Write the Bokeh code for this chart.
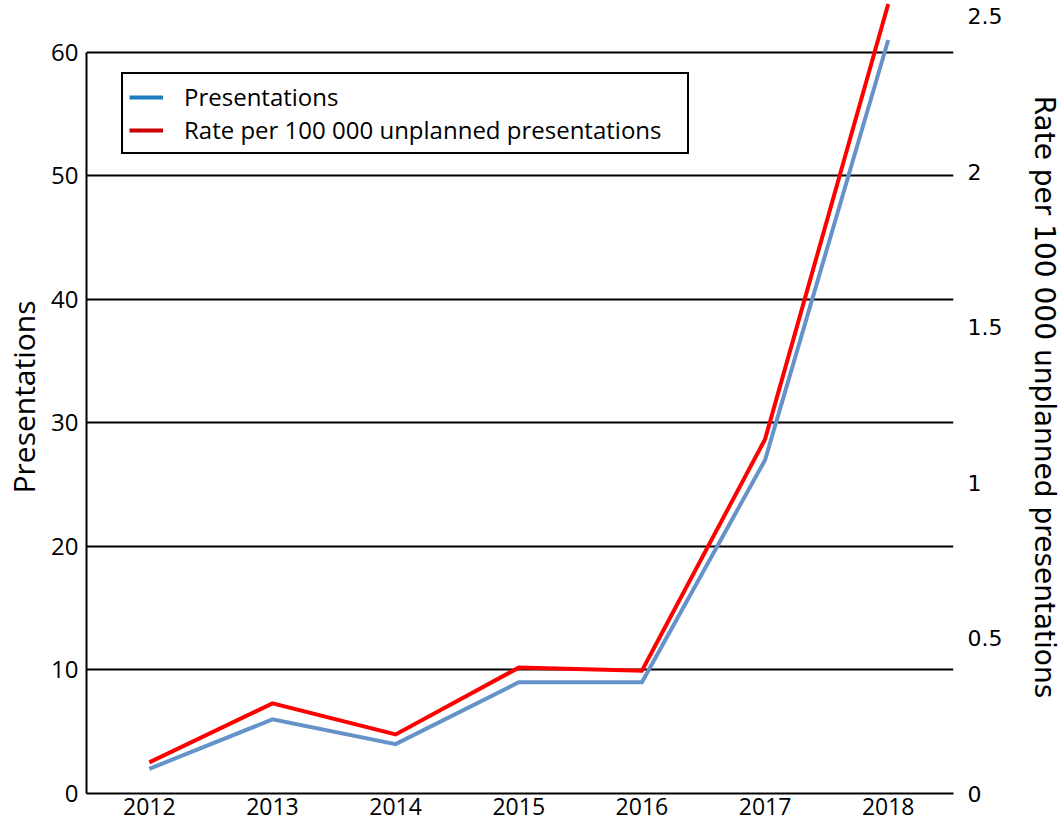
from bokeh.plotting import figure
from bokeh.models import Range1d, LinearAxis, FixedTicker, Legend, LegendItem
from bokeh.embed import file_html
from bokeh.resources import INLINE

# ---- data ----
years = [2012, 2013, 2014, 2015, 2016, 2017, 2018]
presentations = [2, 6, 4, 9, 9, 27, 61]
rate = [0.10, 0.29, 0.19, 0.405, 0.395, 1.14, 2.54]
left_ticks = [0, 10, 20, 30, 40, 50, 60]
right_ticks = [0, 0.5, 1, 1.5, 2, 2.5]
right_tick_labels = ["0", "0.5", "1", "1.5", "2", "2.5"]
series_labels = ["Presentations", "Rate per 100 000 unplanned presentations"]

LEFT_FONT = "Open Sans"
RIGHT_FONT = "DejaVu Sans"

p = figure(width=1064, height=829, output_backend="svg", toolbar_location=None,
           x_range=Range1d(2011.49, 2018.53), y_range=Range1d(0, 64.2),
           min_border_left=0, min_border_right=0, min_border_top=0, min_border_bottom=36)
p.outline_line_color = None
p.background_fill_color = "white"
p.extra_y_ranges = {"rate": Range1d(0, 64.2 * 0.03974)}

# x axis
xa = p.xaxis[0]
xa.ticker = FixedTicker(ticks=years)
xa.major_tick_out = 0
xa.major_tick_in = 0
xa.minor_tick_out = 0
xa.minor_tick_in = 0
xa.axis_line_color = "black"
xa.axis_line_width = 2
xa.major_label_text_font = LEFT_FONT
xa.major_label_text_font_size = "23px"
xa.major_label_text_color = "black"
xa.major_label_standoff = 4

# left y axis
ya = p.yaxis[0]
ya.ticker = FixedTicker(ticks=left_ticks)
ya.bounds = (0, 60)
ya.major_tick_out = 0
ya.major_tick_in = 0
ya.minor_tick_out = 0
ya.minor_tick_in = 0
ya.axis_line_color = "black"
ya.axis_line_width = 2
ya.major_label_text_font = LEFT_FONT
ya.major_label_text_font_size = "24px"
ya.major_label_text_color = "black"
ya.major_label_standoff = 8
ya.axis_label = series_labels[0]
ya.axis_label_text_font = LEFT_FONT
ya.axis_label_text_font_size = "30px"
ya.axis_label_text_font_style = "normal"
ya.axis_label_text_color = "black"
ya.axis_label_standoff = 4

# right y axis
ra = LinearAxis(y_range_name="rate", ticker=FixedTicker(ticks=right_ticks),
                major_label_overrides={t: s for t, s in zip(right_ticks, right_tick_labels)})
ra.axis_line_color = None
ra.major_tick_out = 0
ra.major_tick_in = 0
ra.minor_tick_out = 0
ra.minor_tick_in = 0
ra.major_label_text_font = RIGHT_FONT
ra.major_label_text_font_size = "22px"
ra.major_label_text_color = "black"
ra.major_label_standoff = 14
ra.axis_label = series_labels[1]
ra.axis_label_text_font = RIGHT_FONT
ra.axis_label_text_font_size = "28px"
ra.axis_label_text_font_style = "normal"
ra.axis_label_text_color = "black"
ra.axis_label_standoff = 23
p.add_layout(ra, "right")

# grid
p.xgrid.visible = False
p.ygrid.grid_line_color = "black"
p.ygrid.grid_line_width = 2

# lines
p.line(years, presentations, line_color="#6592c9", line_width=4, line_join="miter")
p.line(years, rate, y_range_name="rate", line_color="#ff0000", line_width=4, line_join="miter")

# legend swatches use their own colours (renderers with no visible points)
nan = float("nan")
leg_blue = p.line(x=[nan], y=[nan], line_color="#1b7cbf", line_width=4)
leg_red = p.line(x=[nan], y=[nan], line_color="#cc0000", line_width=4)

legend = Legend(items=[LegendItem(label=series_labels[0], renderers=[leg_blue]),
                       LegendItem(label=series_labels[1], renderers=[leg_red])],
                location=(35, 639), margin=0, padding=6, spacing=0,
                glyph_width=34, glyph_height=20, label_height=20, label_width=497,
                label_standoff=21, label_text_font=LEFT_FONT, label_text_font_size="24px",
                label_text_color="black",
                border_line_color="black", border_line_width=2, border_line_alpha=1.0,
                background_fill_color="white", background_fill_alpha=1.0)
p.add_layout(legend)

open("out.html", "w").write(file_html(p, INLINE))
